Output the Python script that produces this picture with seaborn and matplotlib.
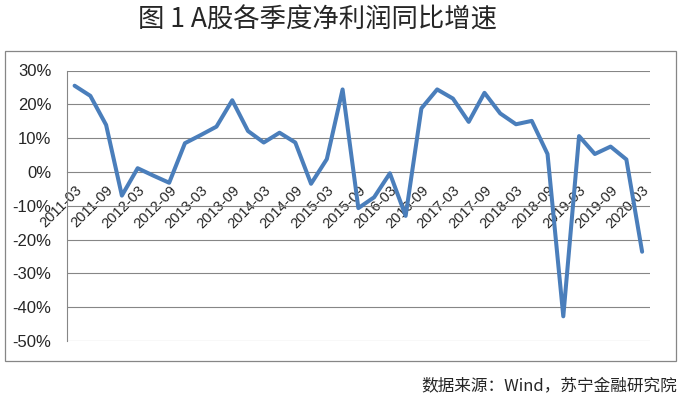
import numpy as np
import pandas as pd
import matplotlib
matplotlib.use('Agg')
import matplotlib.pyplot as plt
from matplotlib.patches import Rectangle
from matplotlib.ticker import FixedLocator, FuncFormatter
import seaborn as sns

# Quarterly net profit growth (YoY, %), 2011-03 .. 2020-03
quarters = [f"{y}-{m:02d}" for y in range(2011, 2021) for m in (3, 6, 9, 12)][:37]
growth = [25.5, 22.5, 13.9, -7.0, 1.1, -1.1, -3.2, 8.5, 10.9, 13.4,
          21.2, 12.1, 8.7, 11.6, 8.7, -3.5, 3.8, 24.4, -10.7, -7.5,
          -0.4, -13.0, 18.8, 24.4, 21.7, 14.8, 23.4, 17.3, 14.1, 15.1,
          5.3, -42.7, 10.6, 5.3, 7.5, 3.7, -23.6]
y_ticks = [30, 20, 10, 0, -10, -20, -30, -40, -50]

TITLE = "图 1 A股各季度净利润同比增速"
SOURCE = "数据来源：Wind，苏宁金融研究院"

df = pd.DataFrame({'pos': np.arange(len(quarters)), 'quarter': quarters, 'growth': growth})

sns.set_style('white')
plt.rcParams['font.family'] = ['Liberation Sans', 'Noto Sans CJK SC', 'DejaVu Sans']

fig = plt.figure(figsize=(6.82, 3.95), dpi=100)
ax = fig.add_axes([66.7 / 682, 1 - 341 / 395, (650 - 66.7) / 682, (341 - 70.5) / 395])

grid_c = '#868686'
line_c = '#4A7EBB'

for v in y_ticks:
    if v != 0:
        ax.axhline(v, color=grid_c, lw=0.8, zorder=1)

sns.lineplot(data=df, x='pos', y='growth', color=line_c, lw=2.9, ax=ax, zorder=3)

ax.set_xlim(-0.5, len(quarters) - 0.5)
ax.set_ylim(-50, 30)
ax.set_xlabel('')
ax.set_ylabel('')

# spines: left axis + horizontal axis at zero
for s in ('top', 'right'):
    ax.spines[s].set_visible(False)
ax.spines['left'].set_color(grid_c)
ax.spines['left'].set_linewidth(0.8)
ax.spines['bottom'].set_position(('data', 0))
ax.spines['bottom'].set_color(grid_c)
ax.spines['bottom'].set_linewidth(0.8)
ax.spines['bottom'].set_zorder(2)

ax.yaxis.set_major_locator(FixedLocator(y_ticks))
ax.yaxis.set_major_formatter(FuncFormatter(lambda v, p: f"{v:.0f}%"))
ax.tick_params(axis='y', length=4, width=0.8, color=grid_c, labelsize=12, pad=7,
               direction='out')

# major ticks at category boundaries, labels every other quarter at centers
ax.xaxis.set_major_locator(FixedLocator(np.arange(-0.5, len(quarters), 1.0)))
ax.xaxis.set_major_formatter(FuncFormatter(lambda v, p: ''))
label_pos = df['pos'][::2].tolist()
ax.xaxis.set_minor_locator(FixedLocator(label_pos))
ax.set_xticklabels(df['quarter'][::2].tolist(), minor=True)
ax.tick_params(axis='x', which='major', length=4, width=0.8, color=grid_c, direction='out')
ax.tick_params(axis='x', which='minor', length=0, labelsize=10.5, pad=8)
for lab in ax.get_xticklabels(minor=True):
    lab.set_rotation(45)
    lab.set_ha('right')
    lab.set_rotation_mode('anchor')

# outer chart border
fig.patches.append(Rectangle((4.5 / 682, 1 - 361 / 395), (676 - 4.5) / 682, (361 - 51) / 395,
                             transform=fig.transFigure, fill=False, edgecolor=grid_c, lw=0.9))

fig.text(317 / 682, 1 - 20 / 395, TITLE, ha='center', va='center', fontsize=19,
         family=['Noto Sans CJK SC', 'DejaVu Sans'])
fig.text(677 / 682, 1 - 386 / 395, SOURCE, ha='right', va='center', fontsize=12,
         style='italic', family=['Noto Sans CJK SC', 'DejaVu Sans'])

fig.savefig('out.png', dpi=100)
